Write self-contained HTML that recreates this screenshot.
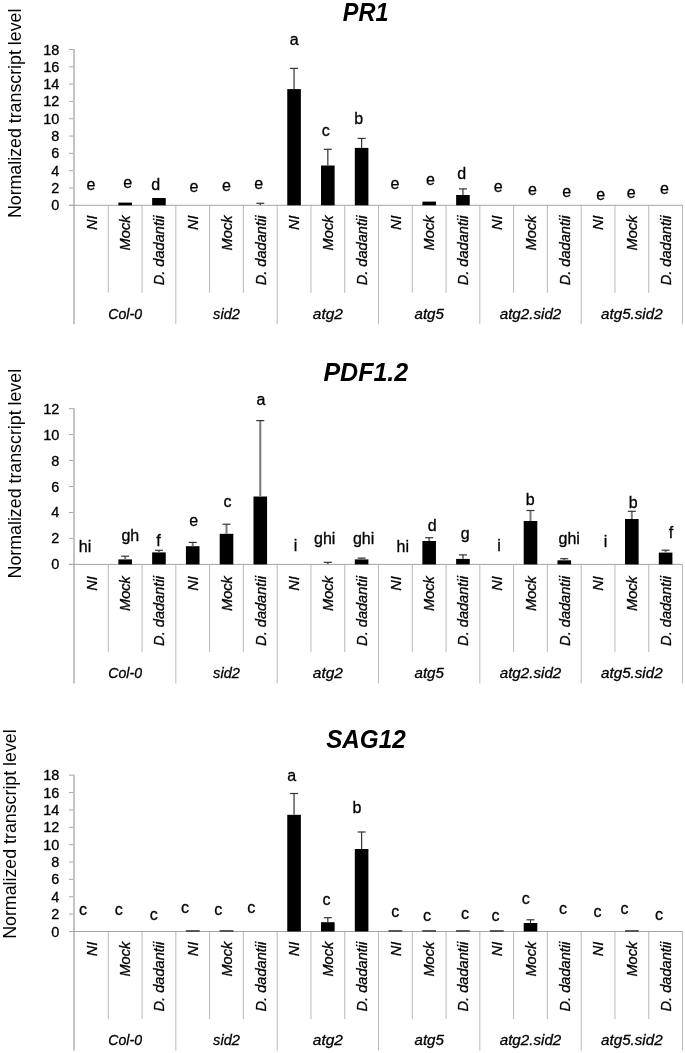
<!DOCTYPE html><html><head><meta charset="utf-8"><style>html,body{margin:0;padding:0;background:#fff;}svg{display:block;will-change:transform;} .t{stroke:#000;stroke-width:0.3px;}</style></head><body>
<svg width="685" height="1053" viewBox="0 0 685 1053" font-family='"Liberation Sans", sans-serif'>
<rect width="685" height="1053" fill="#fff"/>
<g><text x="0" y="0" transform="translate(365.6,21.0) scale(0.94,1)" text-anchor="middle" font-size="25" font-weight="bold" font-style="italic">PR1</text><text x="0" y="0" font-size="17.8" transform="translate(20.7,218.1) rotate(-90)" fill="#000">Normalized transcript level</text><line x1="69" y1="205.30" x2="74" y2="205.30" stroke="#a8a8a8" stroke-width="1"/><text x="59.3" y="210.30" text-anchor="end" font-size="14.5" fill="#000" class="t">0</text><line x1="69" y1="187.99" x2="74" y2="187.99" stroke="#a8a8a8" stroke-width="1"/><text x="59.3" y="192.99" text-anchor="end" font-size="14.5" fill="#000" class="t">2</text><line x1="69" y1="170.68" x2="74" y2="170.68" stroke="#a8a8a8" stroke-width="1"/><text x="59.3" y="175.68" text-anchor="end" font-size="14.5" fill="#000" class="t">4</text><line x1="69" y1="153.37" x2="74" y2="153.37" stroke="#a8a8a8" stroke-width="1"/><text x="59.3" y="158.37" text-anchor="end" font-size="14.5" fill="#000" class="t">6</text><line x1="69" y1="136.06" x2="74" y2="136.06" stroke="#a8a8a8" stroke-width="1"/><text x="59.3" y="141.06" text-anchor="end" font-size="14.5" fill="#000" class="t">8</text><line x1="69" y1="118.74" x2="74" y2="118.74" stroke="#a8a8a8" stroke-width="1"/><text x="59.3" y="123.74" text-anchor="end" font-size="14.5" fill="#000" class="t">10</text><line x1="69" y1="101.43" x2="74" y2="101.43" stroke="#a8a8a8" stroke-width="1"/><text x="59.3" y="106.43" text-anchor="end" font-size="14.5" fill="#000" class="t">12</text><line x1="69" y1="84.12" x2="74" y2="84.12" stroke="#a8a8a8" stroke-width="1"/><text x="59.3" y="89.12" text-anchor="end" font-size="14.5" fill="#000" class="t">14</text><line x1="69" y1="66.81" x2="74" y2="66.81" stroke="#a8a8a8" stroke-width="1"/><text x="59.3" y="71.81" text-anchor="end" font-size="14.5" fill="#000" class="t">16</text><line x1="69" y1="49.50" x2="74" y2="49.50" stroke="#a8a8a8" stroke-width="1"/><text x="59.3" y="54.50" text-anchor="end" font-size="14.5" fill="#000" class="t">18</text><line x1="74" y1="49.00" x2="74" y2="324.30" stroke="#c4c4c4" stroke-width="2"/><line x1="108.28" y1="205.30" x2="108.28" y2="292.80" stroke="#b8b8b8" stroke-width="1"/><line x1="142.06" y1="205.30" x2="142.06" y2="292.80" stroke="#b8b8b8" stroke-width="1"/><line x1="175.83" y1="205.30" x2="175.83" y2="324.30" stroke="#b8b8b8" stroke-width="1"/><line x1="209.61" y1="205.30" x2="209.61" y2="292.80" stroke="#b8b8b8" stroke-width="1"/><line x1="243.39" y1="205.30" x2="243.39" y2="292.80" stroke="#b8b8b8" stroke-width="1"/><line x1="277.17" y1="205.30" x2="277.17" y2="324.30" stroke="#b8b8b8" stroke-width="1"/><line x1="310.94" y1="205.30" x2="310.94" y2="292.80" stroke="#b8b8b8" stroke-width="1"/><line x1="344.72" y1="205.30" x2="344.72" y2="292.80" stroke="#b8b8b8" stroke-width="1"/><line x1="378.50" y1="205.30" x2="378.50" y2="324.30" stroke="#b8b8b8" stroke-width="1"/><line x1="412.28" y1="205.30" x2="412.28" y2="292.80" stroke="#b8b8b8" stroke-width="1"/><line x1="446.06" y1="205.30" x2="446.06" y2="292.80" stroke="#b8b8b8" stroke-width="1"/><line x1="479.83" y1="205.30" x2="479.83" y2="324.30" stroke="#b8b8b8" stroke-width="1"/><line x1="513.61" y1="205.30" x2="513.61" y2="292.80" stroke="#b8b8b8" stroke-width="1"/><line x1="547.39" y1="205.30" x2="547.39" y2="292.80" stroke="#b8b8b8" stroke-width="1"/><line x1="581.17" y1="205.30" x2="581.17" y2="324.30" stroke="#b8b8b8" stroke-width="1"/><line x1="614.94" y1="205.30" x2="614.94" y2="292.80" stroke="#b8b8b8" stroke-width="1"/><line x1="648.72" y1="205.30" x2="648.72" y2="292.80" stroke="#b8b8b8" stroke-width="1"/><line x1="682.50" y1="205.30" x2="682.50" y2="324.30" stroke="#b8b8b8" stroke-width="1"/><line x1="69" y1="205.30" x2="682.50" y2="205.30" stroke="#a4a4a4" stroke-width="1"/><rect x="118.37" y="202.60" width="13.60" height="2.70" fill="#000"/><rect x="152.14" y="198.00" width="13.60" height="7.30" fill="#000"/><line x1="260.28" y1="203.30" x2="260.28" y2="205.30" stroke="#333" stroke-width="1.2"/><line x1="256.28" y1="203.30" x2="264.28" y2="203.30" stroke="#333" stroke-width="1.2"/><rect x="287.26" y="89.10" width="13.60" height="116.20" fill="#000"/><line x1="294.06" y1="68.40" x2="294.06" y2="89.10" stroke="#333" stroke-width="1.2"/><line x1="290.06" y1="68.40" x2="298.06" y2="68.40" stroke="#333" stroke-width="1.2"/><rect x="321.03" y="165.50" width="13.60" height="39.80" fill="#000"/><line x1="327.83" y1="149.30" x2="327.83" y2="165.50" stroke="#333" stroke-width="1.2"/><line x1="323.83" y1="149.30" x2="331.83" y2="149.30" stroke="#333" stroke-width="1.2"/><rect x="354.81" y="147.90" width="13.60" height="57.40" fill="#000"/><line x1="361.61" y1="138.40" x2="361.61" y2="147.90" stroke="#333" stroke-width="1.2"/><line x1="357.61" y1="138.40" x2="365.61" y2="138.40" stroke="#333" stroke-width="1.2"/><rect x="422.37" y="201.60" width="13.60" height="3.70" fill="#000"/><rect x="456.14" y="195.00" width="13.60" height="10.30" fill="#000"/><line x1="462.94" y1="188.90" x2="462.94" y2="195.00" stroke="#333" stroke-width="1.2"/><line x1="458.94" y1="188.90" x2="466.94" y2="188.90" stroke="#333" stroke-width="1.2"/><text x="91.0" y="190.0" text-anchor="middle" font-size="16" fill="#000" class="t">e</text><text x="127.6" y="188.4" text-anchor="middle" font-size="16" fill="#000" class="t">e</text><text x="155.8" y="190.0" text-anchor="middle" font-size="16" fill="#000" class="t">d</text><text x="193.9" y="191.9" text-anchor="middle" font-size="16" fill="#000" class="t">e</text><text x="226.5" y="191.2" text-anchor="middle" font-size="16" fill="#000" class="t">e</text><text x="258.7" y="189.4" text-anchor="middle" font-size="16" fill="#000" class="t">e</text><text x="294.3" y="44.6" text-anchor="middle" font-size="16" fill="#000" class="t">a</text><text x="325.8" y="136.0" text-anchor="middle" font-size="16" fill="#000" class="t">c</text><text x="358.7" y="123.5" text-anchor="middle" font-size="16" fill="#000" class="t">b</text><text x="394.9" y="188.7" text-anchor="middle" font-size="16" fill="#000" class="t">e</text><text x="430.5" y="185.0" text-anchor="middle" font-size="16" fill="#000" class="t">e</text><text x="461.7" y="178.7" text-anchor="middle" font-size="16" fill="#000" class="t">d</text><text x="498.2" y="191.9" text-anchor="middle" font-size="16" fill="#000" class="t">e</text><text x="532.4" y="194.8" text-anchor="middle" font-size="16" fill="#000" class="t">e</text><text x="566.7" y="197.4" text-anchor="middle" font-size="16" fill="#000" class="t">e</text><text x="600.8" y="200.4" text-anchor="middle" font-size="16" fill="#000" class="t">e</text><text x="631.3" y="197.7" text-anchor="middle" font-size="16" fill="#000" class="t">e</text><text x="664.5" y="194.1" text-anchor="middle" font-size="16" fill="#000" class="t">e</text><text x="0" y="0" text-anchor="end" font-size="14.6" font-style="italic" class="t" transform="translate(96.69,215.50) rotate(-90)" fill="#000">NI</text><text x="0" y="0" text-anchor="end" font-size="14.6" font-style="italic" class="t" transform="translate(130.47,215.50) rotate(-90)" fill="#000">Mock</text><text x="0" y="0" text-anchor="end" font-size="14.6" font-style="italic" class="t" transform="translate(164.24,215.50) rotate(-90)" fill="#000">D. dadantii</text><text x="0" y="0" text-anchor="end" font-size="14.6" font-style="italic" class="t" transform="translate(198.02,215.50) rotate(-90)" fill="#000">NI</text><text x="0" y="0" text-anchor="end" font-size="14.6" font-style="italic" class="t" transform="translate(231.80,215.50) rotate(-90)" fill="#000">Mock</text><text x="0" y="0" text-anchor="end" font-size="14.6" font-style="italic" class="t" transform="translate(265.58,215.50) rotate(-90)" fill="#000">D. dadantii</text><text x="0" y="0" text-anchor="end" font-size="14.6" font-style="italic" class="t" transform="translate(299.36,215.50) rotate(-90)" fill="#000">NI</text><text x="0" y="0" text-anchor="end" font-size="14.6" font-style="italic" class="t" transform="translate(333.13,215.50) rotate(-90)" fill="#000">Mock</text><text x="0" y="0" text-anchor="end" font-size="14.6" font-style="italic" class="t" transform="translate(366.91,215.50) rotate(-90)" fill="#000">D. dadantii</text><text x="0" y="0" text-anchor="end" font-size="14.6" font-style="italic" class="t" transform="translate(400.69,215.50) rotate(-90)" fill="#000">NI</text><text x="0" y="0" text-anchor="end" font-size="14.6" font-style="italic" class="t" transform="translate(434.47,215.50) rotate(-90)" fill="#000">Mock</text><text x="0" y="0" text-anchor="end" font-size="14.6" font-style="italic" class="t" transform="translate(468.24,215.50) rotate(-90)" fill="#000">D. dadantii</text><text x="0" y="0" text-anchor="end" font-size="14.6" font-style="italic" class="t" transform="translate(502.02,215.50) rotate(-90)" fill="#000">NI</text><text x="0" y="0" text-anchor="end" font-size="14.6" font-style="italic" class="t" transform="translate(535.80,215.50) rotate(-90)" fill="#000">Mock</text><text x="0" y="0" text-anchor="end" font-size="14.6" font-style="italic" class="t" transform="translate(569.58,215.50) rotate(-90)" fill="#000">D. dadantii</text><text x="0" y="0" text-anchor="end" font-size="14.6" font-style="italic" class="t" transform="translate(603.36,215.50) rotate(-90)" fill="#000">NI</text><text x="0" y="0" text-anchor="end" font-size="14.6" font-style="italic" class="t" transform="translate(637.13,215.50) rotate(-90)" fill="#000">Mock</text><text x="0" y="0" text-anchor="end" font-size="14.6" font-style="italic" class="t" transform="translate(670.91,215.50) rotate(-90)" fill="#000">D. dadantii</text><text x="0" y="0" transform="translate(125.17,319.10) scale(0.965,1)" text-anchor="middle" font-size="14.6" font-style="italic" class="t" fill="#000">Col-0</text><text x="0" y="0" transform="translate(226.50,319.10) scale(1.0,1)" text-anchor="middle" font-size="14.6" font-style="italic" class="t" fill="#000">sid2</text><text x="0" y="0" transform="translate(327.83,319.10) scale(1.06,1)" text-anchor="middle" font-size="14.6" font-style="italic" class="t" fill="#000">atg2</text><text x="0" y="0" transform="translate(429.17,319.10) scale(1.035,1)" text-anchor="middle" font-size="14.6" font-style="italic" class="t" fill="#000">atg5</text><text x="0" y="0" transform="translate(530.50,319.10) scale(1.04,1)" text-anchor="middle" font-size="14.6" font-style="italic" class="t" fill="#000">atg2.sid2</text><text x="0" y="0" transform="translate(631.83,319.10) scale(1.04,1)" text-anchor="middle" font-size="14.6" font-style="italic" class="t" fill="#000">atg5.sid2</text></g>
<g><text x="0" y="0" transform="translate(365.8,381.0) scale(1.0,1)" text-anchor="middle" font-size="25" font-weight="bold" font-style="italic">PDF1.2</text><text x="0" y="0" font-size="17.8" transform="translate(21.4,578.4) rotate(-90)" fill="#000">Normalized transcript level</text><line x1="69" y1="564.40" x2="74" y2="564.40" stroke="#a8a8a8" stroke-width="1"/><text x="59.3" y="569.40" text-anchor="end" font-size="14.5" fill="#000" class="t">0</text><line x1="69" y1="538.43" x2="74" y2="538.43" stroke="#a8a8a8" stroke-width="1"/><text x="59.3" y="543.43" text-anchor="end" font-size="14.5" fill="#000" class="t">2</text><line x1="69" y1="512.47" x2="74" y2="512.47" stroke="#a8a8a8" stroke-width="1"/><text x="59.3" y="517.47" text-anchor="end" font-size="14.5" fill="#000" class="t">4</text><line x1="69" y1="486.50" x2="74" y2="486.50" stroke="#a8a8a8" stroke-width="1"/><text x="59.3" y="491.50" text-anchor="end" font-size="14.5" fill="#000" class="t">6</text><line x1="69" y1="460.53" x2="74" y2="460.53" stroke="#a8a8a8" stroke-width="1"/><text x="59.3" y="465.53" text-anchor="end" font-size="14.5" fill="#000" class="t">8</text><line x1="69" y1="434.57" x2="74" y2="434.57" stroke="#a8a8a8" stroke-width="1"/><text x="59.3" y="439.57" text-anchor="end" font-size="14.5" fill="#000" class="t">10</text><line x1="69" y1="408.60" x2="74" y2="408.60" stroke="#a8a8a8" stroke-width="1"/><text x="59.3" y="413.60" text-anchor="end" font-size="14.5" fill="#000" class="t">12</text><line x1="74" y1="408.10" x2="74" y2="683.40" stroke="#c4c4c4" stroke-width="2"/><line x1="108.28" y1="564.40" x2="108.28" y2="651.90" stroke="#b8b8b8" stroke-width="1"/><line x1="142.06" y1="564.40" x2="142.06" y2="651.90" stroke="#b8b8b8" stroke-width="1"/><line x1="175.83" y1="564.40" x2="175.83" y2="683.40" stroke="#b8b8b8" stroke-width="1"/><line x1="209.61" y1="564.40" x2="209.61" y2="651.90" stroke="#b8b8b8" stroke-width="1"/><line x1="243.39" y1="564.40" x2="243.39" y2="651.90" stroke="#b8b8b8" stroke-width="1"/><line x1="277.17" y1="564.40" x2="277.17" y2="683.40" stroke="#b8b8b8" stroke-width="1"/><line x1="310.94" y1="564.40" x2="310.94" y2="651.90" stroke="#b8b8b8" stroke-width="1"/><line x1="344.72" y1="564.40" x2="344.72" y2="651.90" stroke="#b8b8b8" stroke-width="1"/><line x1="378.50" y1="564.40" x2="378.50" y2="683.40" stroke="#b8b8b8" stroke-width="1"/><line x1="412.28" y1="564.40" x2="412.28" y2="651.90" stroke="#b8b8b8" stroke-width="1"/><line x1="446.06" y1="564.40" x2="446.06" y2="651.90" stroke="#b8b8b8" stroke-width="1"/><line x1="479.83" y1="564.40" x2="479.83" y2="683.40" stroke="#b8b8b8" stroke-width="1"/><line x1="513.61" y1="564.40" x2="513.61" y2="651.90" stroke="#b8b8b8" stroke-width="1"/><line x1="547.39" y1="564.40" x2="547.39" y2="651.90" stroke="#b8b8b8" stroke-width="1"/><line x1="581.17" y1="564.40" x2="581.17" y2="683.40" stroke="#b8b8b8" stroke-width="1"/><line x1="614.94" y1="564.40" x2="614.94" y2="651.90" stroke="#b8b8b8" stroke-width="1"/><line x1="648.72" y1="564.40" x2="648.72" y2="651.90" stroke="#b8b8b8" stroke-width="1"/><line x1="682.50" y1="564.40" x2="682.50" y2="683.40" stroke="#b8b8b8" stroke-width="1"/><line x1="69" y1="564.40" x2="682.50" y2="564.40" stroke="#a4a4a4" stroke-width="1"/><rect x="118.37" y="559.40" width="13.60" height="5.00" fill="#000"/><line x1="125.17" y1="556.20" x2="125.17" y2="559.40" stroke="#7a7a7a" stroke-width="2.0"/><line x1="121.17" y1="556.20" x2="129.17" y2="556.20" stroke="#333" stroke-width="1.2"/><rect x="152.14" y="552.40" width="13.60" height="12.00" fill="#000"/><line x1="158.94" y1="550.30" x2="158.94" y2="552.40" stroke="#7a7a7a" stroke-width="2.0"/><line x1="154.94" y1="550.30" x2="162.94" y2="550.30" stroke="#333" stroke-width="1.2"/><rect x="185.92" y="546.20" width="13.60" height="18.20" fill="#000"/><line x1="192.72" y1="542.40" x2="192.72" y2="546.20" stroke="#7a7a7a" stroke-width="2.0"/><line x1="188.72" y1="542.40" x2="196.72" y2="542.40" stroke="#333" stroke-width="1.2"/><rect x="219.70" y="533.80" width="13.60" height="30.60" fill="#000"/><line x1="226.50" y1="524.20" x2="226.50" y2="533.80" stroke="#7a7a7a" stroke-width="2.0"/><line x1="222.50" y1="524.20" x2="230.50" y2="524.20" stroke="#333" stroke-width="1.2"/><rect x="253.48" y="496.50" width="13.60" height="67.90" fill="#000"/><line x1="260.28" y1="420.60" x2="260.28" y2="496.50" stroke="#7a7a7a" stroke-width="2.0"/><line x1="256.28" y1="420.60" x2="264.28" y2="420.60" stroke="#333" stroke-width="1.2"/><line x1="327.83" y1="562.30" x2="327.83" y2="564.40" stroke="#7a7a7a" stroke-width="2.0"/><line x1="323.83" y1="562.30" x2="331.83" y2="562.30" stroke="#333" stroke-width="1.2"/><rect x="354.81" y="559.40" width="13.60" height="5.00" fill="#000"/><line x1="361.61" y1="558.10" x2="361.61" y2="559.40" stroke="#7a7a7a" stroke-width="2.0"/><line x1="357.61" y1="558.10" x2="365.61" y2="558.10" stroke="#333" stroke-width="1.2"/><rect x="422.37" y="541.00" width="13.60" height="23.40" fill="#000"/><line x1="429.17" y1="537.70" x2="429.17" y2="541.00" stroke="#7a7a7a" stroke-width="2.0"/><line x1="425.17" y1="537.70" x2="433.17" y2="537.70" stroke="#333" stroke-width="1.2"/><rect x="456.14" y="558.90" width="13.60" height="5.50" fill="#000"/><line x1="462.94" y1="554.90" x2="462.94" y2="558.90" stroke="#7a7a7a" stroke-width="2.0"/><line x1="458.94" y1="554.90" x2="466.94" y2="554.90" stroke="#333" stroke-width="1.2"/><rect x="523.70" y="521.00" width="13.60" height="43.40" fill="#000"/><line x1="530.50" y1="510.50" x2="530.50" y2="521.00" stroke="#7a7a7a" stroke-width="2.0"/><line x1="526.50" y1="510.50" x2="534.50" y2="510.50" stroke="#333" stroke-width="1.2"/><rect x="557.48" y="560.30" width="13.60" height="4.10" fill="#000"/><line x1="564.28" y1="558.70" x2="564.28" y2="560.30" stroke="#7a7a7a" stroke-width="2.0"/><line x1="560.28" y1="558.70" x2="568.28" y2="558.70" stroke="#333" stroke-width="1.2"/><rect x="625.03" y="519.00" width="13.60" height="45.40" fill="#000"/><line x1="631.83" y1="511.30" x2="631.83" y2="519.00" stroke="#7a7a7a" stroke-width="2.0"/><line x1="627.83" y1="511.30" x2="635.83" y2="511.30" stroke="#333" stroke-width="1.2"/><rect x="658.81" y="552.60" width="13.60" height="11.80" fill="#000"/><line x1="665.61" y1="550.20" x2="665.61" y2="552.60" stroke="#7a7a7a" stroke-width="2.0"/><line x1="661.61" y1="550.20" x2="669.61" y2="550.20" stroke="#333" stroke-width="1.2"/><text x="85.1" y="551.8" text-anchor="middle" font-size="16" fill="#000" class="t">hi</text><text x="130.3" y="540.6" text-anchor="middle" font-size="16" fill="#000" class="t">gh</text><text x="158.5" y="545.5" text-anchor="middle" font-size="16" fill="#000" class="t">f</text><text x="193.8" y="525.7" text-anchor="middle" font-size="16" fill="#000" class="t">e</text><text x="227.6" y="506.9" text-anchor="middle" font-size="16" fill="#000" class="t">c</text><text x="261.0" y="404.9" text-anchor="middle" font-size="16" fill="#000" class="t">a</text><text x="295.5" y="551.4" text-anchor="middle" font-size="16" fill="#000" class="t">i</text><text x="324.7" y="544.2" text-anchor="middle" font-size="16" fill="#000" class="t">ghi</text><text x="363.6" y="544.2" text-anchor="middle" font-size="16" fill="#000" class="t">ghi</text><text x="402.8" y="551.7" text-anchor="middle" font-size="16" fill="#000" class="t">hi</text><text x="432.1" y="530.5" text-anchor="middle" font-size="16" fill="#000" class="t">d</text><text x="465.1" y="538.5" text-anchor="middle" font-size="16" fill="#000" class="t">g</text><text x="499.0" y="551.0" text-anchor="middle" font-size="16" fill="#000" class="t">i</text><text x="530.1" y="504.9" text-anchor="middle" font-size="16" fill="#000" class="t">b</text><text x="569.2" y="544.2" text-anchor="middle" font-size="16" fill="#000" class="t">ghi</text><text x="605.5" y="546.6" text-anchor="middle" font-size="16" fill="#000" class="t">i</text><text x="633.3" y="507.6" text-anchor="middle" font-size="16" fill="#000" class="t">b</text><text x="671.1" y="538.1" text-anchor="middle" font-size="16" fill="#000" class="t">f</text><text x="0" y="0" text-anchor="end" font-size="14.6" font-style="italic" class="t" transform="translate(96.69,576.10) rotate(-90)" fill="#000">NI</text><text x="0" y="0" text-anchor="end" font-size="14.6" font-style="italic" class="t" transform="translate(130.47,576.10) rotate(-90)" fill="#000">Mock</text><text x="0" y="0" text-anchor="end" font-size="14.6" font-style="italic" class="t" transform="translate(164.24,576.10) rotate(-90)" fill="#000">D. dadantii</text><text x="0" y="0" text-anchor="end" font-size="14.6" font-style="italic" class="t" transform="translate(198.02,576.10) rotate(-90)" fill="#000">NI</text><text x="0" y="0" text-anchor="end" font-size="14.6" font-style="italic" class="t" transform="translate(231.80,576.10) rotate(-90)" fill="#000">Mock</text><text x="0" y="0" text-anchor="end" font-size="14.6" font-style="italic" class="t" transform="translate(265.58,576.10) rotate(-90)" fill="#000">D. dadantii</text><text x="0" y="0" text-anchor="end" font-size="14.6" font-style="italic" class="t" transform="translate(299.36,576.10) rotate(-90)" fill="#000">NI</text><text x="0" y="0" text-anchor="end" font-size="14.6" font-style="italic" class="t" transform="translate(333.13,576.10) rotate(-90)" fill="#000">Mock</text><text x="0" y="0" text-anchor="end" font-size="14.6" font-style="italic" class="t" transform="translate(366.91,576.10) rotate(-90)" fill="#000">D. dadantii</text><text x="0" y="0" text-anchor="end" font-size="14.6" font-style="italic" class="t" transform="translate(400.69,576.10) rotate(-90)" fill="#000">NI</text><text x="0" y="0" text-anchor="end" font-size="14.6" font-style="italic" class="t" transform="translate(434.47,576.10) rotate(-90)" fill="#000">Mock</text><text x="0" y="0" text-anchor="end" font-size="14.6" font-style="italic" class="t" transform="translate(468.24,576.10) rotate(-90)" fill="#000">D. dadantii</text><text x="0" y="0" text-anchor="end" font-size="14.6" font-style="italic" class="t" transform="translate(502.02,576.10) rotate(-90)" fill="#000">NI</text><text x="0" y="0" text-anchor="end" font-size="14.6" font-style="italic" class="t" transform="translate(535.80,576.10) rotate(-90)" fill="#000">Mock</text><text x="0" y="0" text-anchor="end" font-size="14.6" font-style="italic" class="t" transform="translate(569.58,576.10) rotate(-90)" fill="#000">D. dadantii</text><text x="0" y="0" text-anchor="end" font-size="14.6" font-style="italic" class="t" transform="translate(603.36,576.10) rotate(-90)" fill="#000">NI</text><text x="0" y="0" text-anchor="end" font-size="14.6" font-style="italic" class="t" transform="translate(637.13,576.10) rotate(-90)" fill="#000">Mock</text><text x="0" y="0" text-anchor="end" font-size="14.6" font-style="italic" class="t" transform="translate(670.91,576.10) rotate(-90)" fill="#000">D. dadantii</text><text x="0" y="0" transform="translate(125.17,678.20) scale(0.965,1)" text-anchor="middle" font-size="14.6" font-style="italic" class="t" fill="#000">Col-0</text><text x="0" y="0" transform="translate(226.50,678.20) scale(1.0,1)" text-anchor="middle" font-size="14.6" font-style="italic" class="t" fill="#000">sid2</text><text x="0" y="0" transform="translate(327.83,678.20) scale(1.06,1)" text-anchor="middle" font-size="14.6" font-style="italic" class="t" fill="#000">atg2</text><text x="0" y="0" transform="translate(429.17,678.20) scale(1.035,1)" text-anchor="middle" font-size="14.6" font-style="italic" class="t" fill="#000">atg5</text><text x="0" y="0" transform="translate(530.50,678.20) scale(1.04,1)" text-anchor="middle" font-size="14.6" font-style="italic" class="t" fill="#000">atg2.sid2</text><text x="0" y="0" transform="translate(631.83,678.20) scale(1.04,1)" text-anchor="middle" font-size="14.6" font-style="italic" class="t" fill="#000">atg5.sid2</text></g>
<g><text x="0" y="0" transform="translate(365.9,747.5) scale(0.97,1)" text-anchor="middle" font-size="25" font-weight="bold" font-style="italic">SAG12</text><text x="0" y="0" font-size="17.8" transform="translate(15.9,938.8) rotate(-90)" fill="#000">Normalized transcript level</text><line x1="69" y1="931.50" x2="74" y2="931.50" stroke="#a8a8a8" stroke-width="1"/><text x="59.3" y="936.50" text-anchor="end" font-size="14.5" fill="#000" class="t">0</text><line x1="69" y1="914.13" x2="74" y2="914.13" stroke="#a8a8a8" stroke-width="1"/><text x="59.3" y="919.13" text-anchor="end" font-size="14.5" fill="#000" class="t">2</text><line x1="69" y1="896.77" x2="74" y2="896.77" stroke="#a8a8a8" stroke-width="1"/><text x="59.3" y="901.77" text-anchor="end" font-size="14.5" fill="#000" class="t">4</text><line x1="69" y1="879.40" x2="74" y2="879.40" stroke="#a8a8a8" stroke-width="1"/><text x="59.3" y="884.40" text-anchor="end" font-size="14.5" fill="#000" class="t">6</text><line x1="69" y1="862.03" x2="74" y2="862.03" stroke="#a8a8a8" stroke-width="1"/><text x="59.3" y="867.03" text-anchor="end" font-size="14.5" fill="#000" class="t">8</text><line x1="69" y1="844.67" x2="74" y2="844.67" stroke="#a8a8a8" stroke-width="1"/><text x="59.3" y="849.67" text-anchor="end" font-size="14.5" fill="#000" class="t">10</text><line x1="69" y1="827.30" x2="74" y2="827.30" stroke="#a8a8a8" stroke-width="1"/><text x="59.3" y="832.30" text-anchor="end" font-size="14.5" fill="#000" class="t">12</text><line x1="69" y1="809.93" x2="74" y2="809.93" stroke="#a8a8a8" stroke-width="1"/><text x="59.3" y="814.93" text-anchor="end" font-size="14.5" fill="#000" class="t">14</text><line x1="69" y1="792.57" x2="74" y2="792.57" stroke="#a8a8a8" stroke-width="1"/><text x="59.3" y="797.57" text-anchor="end" font-size="14.5" fill="#000" class="t">16</text><line x1="69" y1="775.20" x2="74" y2="775.20" stroke="#a8a8a8" stroke-width="1"/><text x="59.3" y="780.20" text-anchor="end" font-size="14.5" fill="#000" class="t">18</text><line x1="74" y1="774.70" x2="74" y2="1050.50" stroke="#c4c4c4" stroke-width="2"/><line x1="108.28" y1="931.50" x2="108.28" y2="1019.00" stroke="#b8b8b8" stroke-width="1"/><line x1="142.06" y1="931.50" x2="142.06" y2="1019.00" stroke="#b8b8b8" stroke-width="1"/><line x1="175.83" y1="931.50" x2="175.83" y2="1050.50" stroke="#b8b8b8" stroke-width="1"/><line x1="209.61" y1="931.50" x2="209.61" y2="1019.00" stroke="#b8b8b8" stroke-width="1"/><line x1="243.39" y1="931.50" x2="243.39" y2="1019.00" stroke="#b8b8b8" stroke-width="1"/><line x1="277.17" y1="931.50" x2="277.17" y2="1050.50" stroke="#b8b8b8" stroke-width="1"/><line x1="310.94" y1="931.50" x2="310.94" y2="1019.00" stroke="#b8b8b8" stroke-width="1"/><line x1="344.72" y1="931.50" x2="344.72" y2="1019.00" stroke="#b8b8b8" stroke-width="1"/><line x1="378.50" y1="931.50" x2="378.50" y2="1050.50" stroke="#b8b8b8" stroke-width="1"/><line x1="412.28" y1="931.50" x2="412.28" y2="1019.00" stroke="#b8b8b8" stroke-width="1"/><line x1="446.06" y1="931.50" x2="446.06" y2="1019.00" stroke="#b8b8b8" stroke-width="1"/><line x1="479.83" y1="931.50" x2="479.83" y2="1050.50" stroke="#b8b8b8" stroke-width="1"/><line x1="513.61" y1="931.50" x2="513.61" y2="1019.00" stroke="#b8b8b8" stroke-width="1"/><line x1="547.39" y1="931.50" x2="547.39" y2="1019.00" stroke="#b8b8b8" stroke-width="1"/><line x1="581.17" y1="931.50" x2="581.17" y2="1050.50" stroke="#b8b8b8" stroke-width="1"/><line x1="614.94" y1="931.50" x2="614.94" y2="1019.00" stroke="#b8b8b8" stroke-width="1"/><line x1="648.72" y1="931.50" x2="648.72" y2="1019.00" stroke="#b8b8b8" stroke-width="1"/><line x1="682.50" y1="931.50" x2="682.50" y2="1050.50" stroke="#b8b8b8" stroke-width="1"/><line x1="69" y1="931.50" x2="682.50" y2="931.50" stroke="#a4a4a4" stroke-width="1"/><rect x="185.92" y="930.50" width="13.60" height="1.00" fill="#000"/><line x1="185.92" y1="930.70" x2="199.52" y2="930.70" stroke="#555" stroke-width="1.2"/><rect x="219.70" y="930.50" width="13.60" height="1.00" fill="#000"/><line x1="219.70" y1="930.70" x2="233.30" y2="930.70" stroke="#555" stroke-width="1.2"/><rect x="287.26" y="814.80" width="13.60" height="116.70" fill="#000"/><line x1="294.06" y1="793.50" x2="294.06" y2="814.80" stroke="#333" stroke-width="1.2"/><line x1="290.06" y1="793.50" x2="298.06" y2="793.50" stroke="#333" stroke-width="1.2"/><rect x="321.03" y="922.20" width="13.60" height="9.30" fill="#000"/><line x1="327.83" y1="917.70" x2="327.83" y2="922.20" stroke="#333" stroke-width="1.2"/><line x1="323.83" y1="917.70" x2="331.83" y2="917.70" stroke="#333" stroke-width="1.2"/><rect x="354.81" y="849.00" width="13.60" height="82.50" fill="#000"/><line x1="361.61" y1="832.00" x2="361.61" y2="849.00" stroke="#333" stroke-width="1.2"/><line x1="357.61" y1="832.00" x2="365.61" y2="832.00" stroke="#333" stroke-width="1.2"/><rect x="388.59" y="930.50" width="13.60" height="1.00" fill="#000"/><line x1="388.59" y1="930.70" x2="402.19" y2="930.70" stroke="#555" stroke-width="1.2"/><rect x="422.37" y="930.50" width="13.60" height="1.00" fill="#000"/><line x1="422.37" y1="930.70" x2="435.97" y2="930.70" stroke="#555" stroke-width="1.2"/><rect x="456.14" y="930.50" width="13.60" height="1.00" fill="#000"/><line x1="456.14" y1="930.70" x2="469.74" y2="930.70" stroke="#555" stroke-width="1.2"/><rect x="489.92" y="930.50" width="13.60" height="1.00" fill="#000"/><line x1="489.92" y1="930.70" x2="503.52" y2="930.70" stroke="#555" stroke-width="1.2"/><rect x="523.70" y="923.00" width="13.60" height="8.50" fill="#000"/><line x1="530.50" y1="919.80" x2="530.50" y2="923.00" stroke="#333" stroke-width="1.2"/><line x1="526.50" y1="919.80" x2="534.50" y2="919.80" stroke="#333" stroke-width="1.2"/><rect x="625.03" y="930.50" width="13.60" height="1.00" fill="#000"/><line x1="625.03" y1="930.70" x2="638.63" y2="930.70" stroke="#555" stroke-width="1.2"/><text x="83.0" y="915.0" text-anchor="middle" font-size="16" fill="#000" class="t">c</text><text x="118.8" y="914.5" text-anchor="middle" font-size="16" fill="#000" class="t">c</text><text x="153.7" y="919.8" text-anchor="middle" font-size="16" fill="#000" class="t">c</text><text x="185.0" y="912.9" text-anchor="middle" font-size="16" fill="#000" class="t">c</text><text x="218.3" y="915.3" text-anchor="middle" font-size="16" fill="#000" class="t">c</text><text x="251.3" y="912.9" text-anchor="middle" font-size="16" fill="#000" class="t">c</text><text x="291.7" y="781.0" text-anchor="middle" font-size="16" fill="#000" class="t">a</text><text x="326.6" y="904.5" text-anchor="middle" font-size="16" fill="#000" class="t">c</text><text x="356.9" y="812.6" text-anchor="middle" font-size="16" fill="#000" class="t">b</text><text x="395.3" y="916.9" text-anchor="middle" font-size="16" fill="#000" class="t">c</text><text x="427.0" y="921.4" text-anchor="middle" font-size="16" fill="#000" class="t">c</text><text x="465.1" y="919.3" text-anchor="middle" font-size="16" fill="#000" class="t">c</text><text x="495.5" y="921.4" text-anchor="middle" font-size="16" fill="#000" class="t">c</text><text x="525.8" y="904.4" text-anchor="middle" font-size="16" fill="#000" class="t">c</text><text x="563.1" y="913.7" text-anchor="middle" font-size="16" fill="#000" class="t">c</text><text x="597.5" y="916.9" text-anchor="middle" font-size="16" fill="#000" class="t">c</text><text x="624.6" y="914.0" text-anchor="middle" font-size="16" fill="#000" class="t">c</text><text x="658.9" y="919.8" text-anchor="middle" font-size="16" fill="#000" class="t">c</text><text x="0" y="0" text-anchor="end" font-size="14.6" font-style="italic" class="t" transform="translate(96.69,941.70) rotate(-90)" fill="#000">NI</text><text x="0" y="0" text-anchor="end" font-size="14.6" font-style="italic" class="t" transform="translate(130.47,941.70) rotate(-90)" fill="#000">Mock</text><text x="0" y="0" text-anchor="end" font-size="14.6" font-style="italic" class="t" transform="translate(164.24,941.70) rotate(-90)" fill="#000">D. dadantii</text><text x="0" y="0" text-anchor="end" font-size="14.6" font-style="italic" class="t" transform="translate(198.02,941.70) rotate(-90)" fill="#000">NI</text><text x="0" y="0" text-anchor="end" font-size="14.6" font-style="italic" class="t" transform="translate(231.80,941.70) rotate(-90)" fill="#000">Mock</text><text x="0" y="0" text-anchor="end" font-size="14.6" font-style="italic" class="t" transform="translate(265.58,941.70) rotate(-90)" fill="#000">D. dadantii</text><text x="0" y="0" text-anchor="end" font-size="14.6" font-style="italic" class="t" transform="translate(299.36,941.70) rotate(-90)" fill="#000">NI</text><text x="0" y="0" text-anchor="end" font-size="14.6" font-style="italic" class="t" transform="translate(333.13,941.70) rotate(-90)" fill="#000">Mock</text><text x="0" y="0" text-anchor="end" font-size="14.6" font-style="italic" class="t" transform="translate(366.91,941.70) rotate(-90)" fill="#000">D. dadantii</text><text x="0" y="0" text-anchor="end" font-size="14.6" font-style="italic" class="t" transform="translate(400.69,941.70) rotate(-90)" fill="#000">NI</text><text x="0" y="0" text-anchor="end" font-size="14.6" font-style="italic" class="t" transform="translate(434.47,941.70) rotate(-90)" fill="#000">Mock</text><text x="0" y="0" text-anchor="end" font-size="14.6" font-style="italic" class="t" transform="translate(468.24,941.70) rotate(-90)" fill="#000">D. dadantii</text><text x="0" y="0" text-anchor="end" font-size="14.6" font-style="italic" class="t" transform="translate(502.02,941.70) rotate(-90)" fill="#000">NI</text><text x="0" y="0" text-anchor="end" font-size="14.6" font-style="italic" class="t" transform="translate(535.80,941.70) rotate(-90)" fill="#000">Mock</text><text x="0" y="0" text-anchor="end" font-size="14.6" font-style="italic" class="t" transform="translate(569.58,941.70) rotate(-90)" fill="#000">D. dadantii</text><text x="0" y="0" text-anchor="end" font-size="14.6" font-style="italic" class="t" transform="translate(603.36,941.70) rotate(-90)" fill="#000">NI</text><text x="0" y="0" text-anchor="end" font-size="14.6" font-style="italic" class="t" transform="translate(637.13,941.70) rotate(-90)" fill="#000">Mock</text><text x="0" y="0" text-anchor="end" font-size="14.6" font-style="italic" class="t" transform="translate(670.91,941.70) rotate(-90)" fill="#000">D. dadantii</text><text x="0" y="0" transform="translate(125.17,1045.30) scale(0.965,1)" text-anchor="middle" font-size="14.6" font-style="italic" class="t" fill="#000">Col-0</text><text x="0" y="0" transform="translate(226.50,1045.30) scale(1.0,1)" text-anchor="middle" font-size="14.6" font-style="italic" class="t" fill="#000">sid2</text><text x="0" y="0" transform="translate(327.83,1045.30) scale(1.06,1)" text-anchor="middle" font-size="14.6" font-style="italic" class="t" fill="#000">atg2</text><text x="0" y="0" transform="translate(429.17,1045.30) scale(1.035,1)" text-anchor="middle" font-size="14.6" font-style="italic" class="t" fill="#000">atg5</text><text x="0" y="0" transform="translate(530.50,1045.30) scale(1.04,1)" text-anchor="middle" font-size="14.6" font-style="italic" class="t" fill="#000">atg2.sid2</text><text x="0" y="0" transform="translate(631.83,1045.30) scale(1.04,1)" text-anchor="middle" font-size="14.6" font-style="italic" class="t" fill="#000">atg5.sid2</text></g>
</svg></body></html>
